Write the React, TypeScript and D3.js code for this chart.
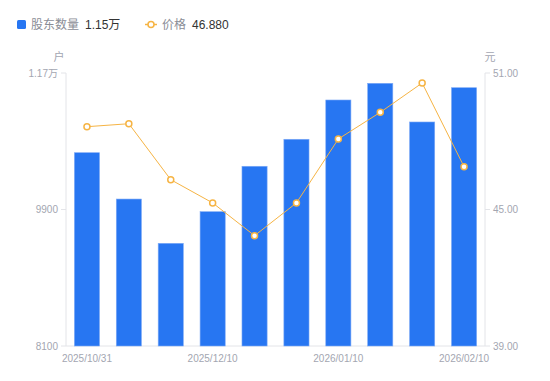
import React from "react";
import * as d3 from "d3";

const categories = [
  "2025/10/31", "2025/11/10", "2025/11/20", "2025/11/30", "2025/12/10",
  "2025/12/20", "2026/01/10", "2026/01/20", "2026/01/31", "2026/02/10",
];
const holders = [10649, 10038, 9454, 9871, 10470, 10826, 11344, 11564, 11054, 11506];
const prices = [48.64, 48.77, 46.31, 45.29, 43.85, 45.29, 48.1, 49.27, 50.56, 46.88];
const leftTicks = [8100, 9900, 11700];
const leftTickLabels = ["8100", "9900", "1.17万"];
const rightTicks = [39, 45, 51];
const shownLabelIdx = [0, 3, 6, 9];
const tickCategoryLabels = ["2025/10/31", "2025/12/10", "2026/01/10", "2026/02/10"];

const W = 550, H = 381;
const L = 66, R = 485, T = 73, B = 346;
const FONT = "'Liberation Sans', Arial, 'Noto Sans CJK SC', sans-serif";
const GREY = "#a3a6b1";
const BLUE = "#2776f2";
const ORANGE = "#f6b444";

export default function App() {
  const x = d3.scaleBand<string>().domain(categories).range([L, R]).paddingInner(0.4).paddingOuter(0.2);
  const yL = d3.scaleLinear().domain([8100, 11700]).range([B, T]);
  const yR = d3.scaleLinear().domain([39, 51]).range([B, T]);
  const cx = (c: string) => (x(c) as number) + x.bandwidth() / 2;
  const line = d3.line<number>().x((_, i) => cx(categories[i])).y((d) => yR(d));
  // adjust: band step 41.9, bar width 25
  return (
    <svg width={W} height={H} style={{ position: "absolute", left: 0, top: 0, fontFamily: FONT }}>
      {/* legend */}
      <rect x={17} y={20} width={9} height={9} rx={1.5} fill={BLUE} />
      <text x={31} y={29} fontSize={12} fill="#8a8d96">股东数量</text>
      <text x={85} y={29} fontSize={12} fill="#333">1.15万</text>
      <line x1={145} x2={157} y1={24.5} y2={24.5} stroke={ORANGE} strokeWidth={1.5} />
      <circle cx={151} cy={24.5} r={3} fill="#fff" stroke={ORANGE} strokeWidth={1.5} />
      <text x={162} y={29} fontSize={12} fill="#8a8d96">价格</text>
      <text x={192} y={29} fontSize={12} fill="#333">46.880</text>

      {/* unit labels */}
      <text x={59} y={61} fontSize={11} fill={GREY} textAnchor="middle">户</text>
      <text x={490} y={61} fontSize={11} fill={GREY} textAnchor="middle">元</text>

      {/* axes */}
      <line x1={L} x2={L} y1={T} y2={B} stroke="#e3e4e8" />
      <line x1={R} x2={R} y1={T} y2={B} stroke="#e3e4e8" />
      <line x1={L} x2={R} y1={B} y2={B} stroke="#e3e4e8" />
      {leftTicks.map((t, i) => (
        <g key={"l" + t}>
          <line x1={L - 5} x2={L} y1={yL(t)} y2={yL(t)} stroke="#e3e4e8" />
          <text x={L - 8} y={yL(t) + 3.5} fontSize={10} fill={GREY} textAnchor="end">{leftTickLabels[i]}</text>
        </g>
      ))}
      {rightTicks.map((t) => (
        <g key={"r" + t}>
          <line x1={R} x2={R + 5} y1={yR(t)} y2={yR(t)} stroke="#e3e4e8" />
          <text x={R + 8} y={yR(t) + 3.5} fontSize={10} fill={GREY}>{t.toFixed(2)}</text>
        </g>
      ))}
      {shownLabelIdx.map((idx, i) => (
        <text key={"c" + idx} x={cx(categories[idx])} y={362} fontSize={10} fill={GREY} textAnchor="middle">
          {tickCategoryLabels[i]}
        </text>
      ))}

      {/* bars */}
      {holders.map((v, i) => (
        <rect key={"b" + i} x={x(categories[i]) as number} y={yL(v)} width={x.bandwidth()} height={B - yL(v)}
          fill={BLUE} stroke="#7eaaf6" strokeWidth={0.6} />
      ))}

      {/* line */}
      <path d={line(prices) || ""} fill="none" stroke={ORANGE} strokeWidth={1} />
      {prices.map((p, i) => (
        <circle key={"p" + i} cx={cx(categories[i])} cy={yR(p)} r={3} fill="#fff" stroke={ORANGE} strokeWidth={1.5} />
      ))}
    </svg>
  );
}
